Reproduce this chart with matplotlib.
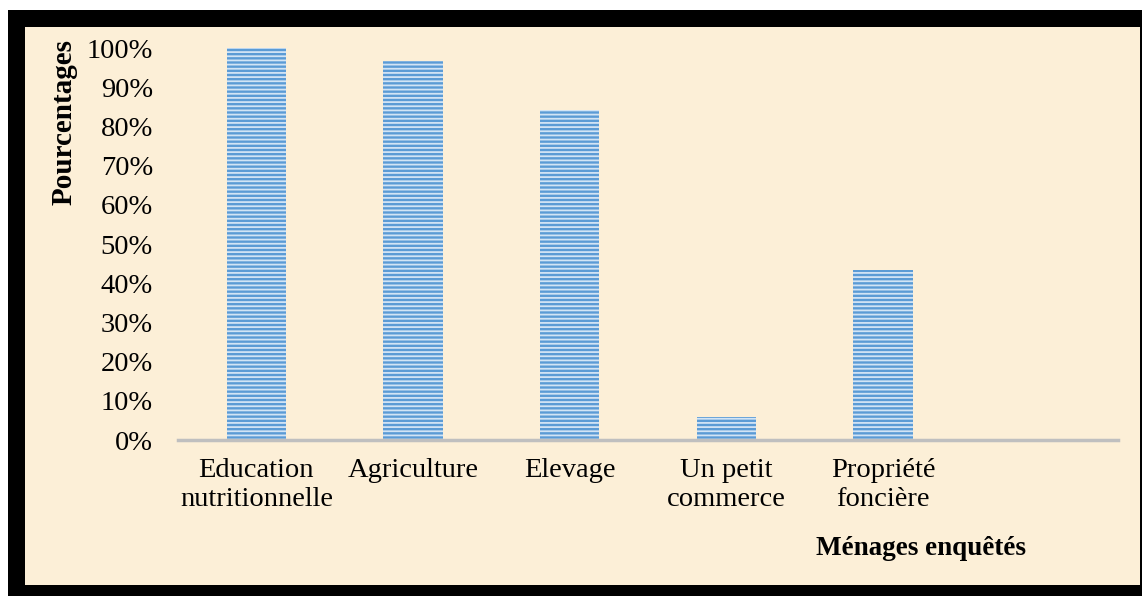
import matplotlib.pyplot as plt
from matplotlib.patches import Rectangle
import numpy as np

categories = ["Education\nnutritionnelle", "Agriculture", "Elevage",
              "Un petit\ncommerce", "Propriété\nfoncière", ""]
values = [100, 96.7, 84.2, 5.9, 43.4, 0]
yticks = [0, 10, 20, 30, 40, 50, 60, 70, 80, 90, 100]

W, H = 1142, 596


def px(x0, y0, x1, y1):
    # pixel box (top-left origin) -> figure fraction rect
    return (x0 / W, 1 - y1 / H, (x1 - x0) / W, (y1 - y0) / H)


plt.rcParams['font.family'] = ['Liberation Serif', 'DejaVu Serif']
plt.rcParams['hatch.linewidth'] = 1.3

fig = plt.figure(figsize=(W / 100, H / 100), dpi=100, facecolor='white')

# black frame and cream panel
x, y, w, h = px(8, 10, 1142, 596)
fig.patches.append(Rectangle((x, y), w, h, transform=fig.transFigure,
                             facecolor='black', edgecolor='none', zorder=-3))
x, y, w, h = px(25, 27, 1140, 585)
fig.patches.append(Rectangle((x, y), w, h, transform=fig.transFigure,
                             facecolor='#fcefd7', edgecolor='none', zorder=-2))

ax = fig.add_axes(px(178, 48, 1118, 440))
ax.set_facecolor('none')
ax.set_zorder(1)

pos = np.arange(len(categories))
ax.bar(pos, values, width=0.38, color='#5B9BD5', edgecolor='#d2e4f5',
       linewidth=0, hatch='----', zorder=2)

ax.set_xlim(-0.5, len(categories) - 0.5)
ax.set_ylim(0, 100)
ax.set_yticks(yticks)
ax.set_yticklabels(["{}%".format(t) for t in yticks], fontsize=20.5)
ax.set_xticks(pos)
ax.set_xticklabels(categories, fontsize=20.5, linespacing=1.2)
ax.tick_params(axis='y', length=0, pad=18)
ax.tick_params(axis='x', length=0, pad=13)

for s in ['top', 'right', 'left']:
    ax.spines[s].set_visible(False)
ax.spines['bottom'].set_color('#bfbfbf')
ax.spines['bottom'].set_linewidth(2.5)

ax.set_ylabel('Pourcentages', fontsize=21, fontweight='bold')
ax.yaxis.set_label_coords(-0.107, 0.81)
ax.set_xlabel('Ménages enquêtés', fontsize=19.5, fontweight='bold')
ax.xaxis.set_label_coords(0.79, -0.245)

fig.savefig('out.png', dpi=100, facecolor='white')
